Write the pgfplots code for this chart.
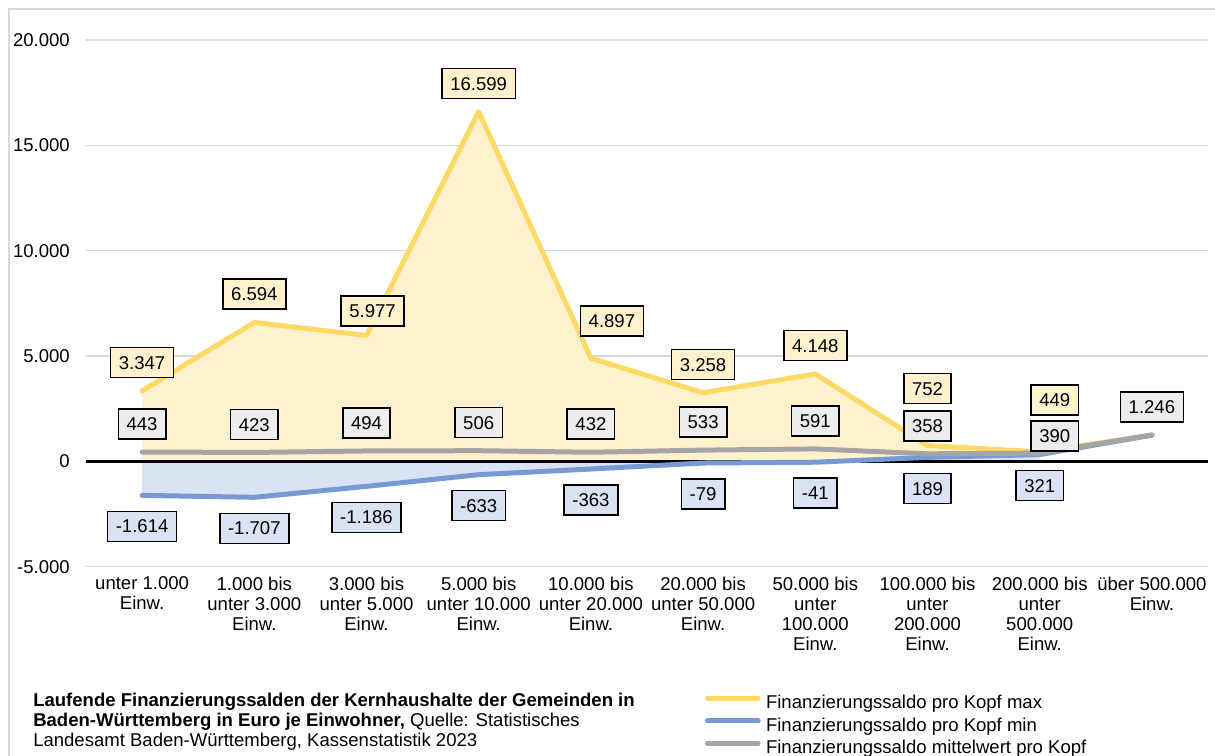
\documentclass[border=0pt]{standalone}
\usepackage{fontspec}
\setmainfont{Liberation Sans}
\usepackage{pgfplots}
\usepackage{pgfplotstable}
\pgfplotsset{compat=1.18}
\definecolor{maxline}{HTML}{FFD966}
\definecolor{maxfill}{HTML}{FFF2CC}
\definecolor{minline}{HTML}{779AD5}
\definecolor{minfill}{HTML}{DAE3F3}
\definecolor{meanline}{HTML}{A5A5A5}
\definecolor{meanfill}{HTML}{EDEDED}
\definecolor{gridc}{HTML}{D9D9D9}

\pgfplotstableread{
x max min mean
0 3347 -1614 443
1 6594 -1707 423
2 5977 -1186 494
3 16599 -633 506
4 4897 -363 432
5 3258 -79 533
6 4148 -41 591
7 752 189 358
8 449 321 390
9 1246 1246 1246
}\datatable

\tikzset{lbl/.style={draw=black, line width=1.2pt, minimum height=22.5pt,
  inner xsep=6.2pt, inner ysep=0pt, text height=9.95pt, text depth=0pt,
  font=\fontsize{13.9}{15.2}\selectfont, text=black}}
\pgfplotsset{lblplot/.style n args={3}{draw=none, forget plot, point meta=explicit symbolic,
  nodes near coords,
  every node near coord/.append style={lbl, fill=#1, anchor=center, xshift=#2*0.75pt, yshift=#3*0.75pt}}}

\begin{document}
\begin{tikzpicture}[font=\fontsize{13.9}{15.2}\selectfont]
\useasboundingbox (0pt,0pt) rectangle (911.25pt,567pt);
\draw[gridc, line width=1.1pt] (6.75pt,0pt) -- (6.75pt,560.25pt) -- (911.25pt,560.25pt);
\begin{axis}[
  at={(64.5pt,141.98pt)}, anchor=south west,
  scale only axis, width=841.5pt, height=395pt,
  xmin=-0.5, xmax=9.5, ymin=-5000, ymax=20000,
  axis line style={draw=none},
  clip=false,
  scaled y ticks=false,
  xtick={0,...,9},
  xticklabels={unter 1.000\\Einw., 1.000 bis\\unter 3.000\\Einw., 3.000 bis\\unter 5.000\\Einw., 5.000 bis\\unter 10.000\\Einw., 10.000 bis\\unter 20.000\\Einw., 20.000 bis\\unter 50.000\\Einw., 50.000 bis\\unter\\100.000\\Einw., 100.000 bis\\unter\\200.000\\Einw., 200.000 bis\\unter\\500.000\\Einw., über 500.000\\Einw.},
  ytick={-5000,0,5000,10000,15000,20000},
  yticklabels={-5.000,0,5.000,10.000,15.000,20.000},
  major tick length=0pt,
  ymajorgrids, grid style={gridc, line width=1pt},
  tick label style={font=\fontsize{13.9}{15.2}\selectfont},
  xticklabel style={align=center, anchor=north, inner sep=0pt, yshift=-7.3pt},
  yticklabel style={anchor=east, inner sep=0pt, xshift=-12pt},
  legend style={at={(axis description cs:0.5517,-0.238)}, anchor=north west,
    draw=none, fill=none, inner sep=0pt, outer sep=0pt, row sep=0pt,
    nodes={inner xsep=4pt, inner ysep=1.5pt, text height=10.9pt, text depth=3pt, anchor=west},
    /tikz/every even column/.append style={column sep=0pt}},
  legend cell align=left,
  legend image code/.code={\draw[#1, line cap=round] (0pt,3.8pt) -- (38pt,3.8pt);},
]
\addplot[fill=maxfill, draw=none, forget plot, skip coords between index={9}{10}]
  table[x=x, y=max] {\datatable} \closedcycle;
\addplot[fill=minfill, draw=none, forget plot, skip coords between index={9}{10}]
  table[x=x, y=min] {\datatable} \closedcycle;
\draw[black, line width=2pt] (axis cs:-0.5,0) -- (axis cs:9.5,0);
\addplot[maxline, line width=3.75pt, line cap=round, line join=round]
  table[x=x, y=max] {\datatable};
\addplot[minline, line width=3.75pt, line cap=round, line join=round]
  table[x=x, y=min] {\datatable};
\addplot[meanline, line width=3.75pt, line cap=round, line join=round]
  table[x=x, y=mean] {\datatable};
\legend{Finanzierungssaldo pro Kopf max, Finanzierungssaldo pro Kopf min, Finanzierungssaldo mittelwert pro Kopf}
% labels max
\addplot[lblplot={maxfill}{0}{28.3}] coordinates {(0,3347) [3.347] (1,6594) [6.594] (3,16599) [16.599] (5,3258) [3.258] (6,4148) [4.148]};
\addplot[lblplot={maxfill}{6}{24.5}] coordinates {(2,5977) [5.977]};
\addplot[lblplot={maxfill}{21}{37}] coordinates {(4,4897) [4.897]};
\addplot[lblplot={maxfill}{0}{57}] coordinates {(7,752) [752]};
\addplot[lblplot={maxfill}{15}{52}] coordinates {(8,449) [449]};
% labels min
\addplot[lblplot={minfill}{0}{-31}] coordinates {(0,-1614) [-1.614] (1,-1707) [-1.707] (2,-1186) [-1.186] (3,-633) [-633] (4,-363) [-363] (5,-79) [-79] (6,-41) [-41] (7,189) [189] (8,321) [321]};
% labels mean
\addplot[lblplot={meanfill}{0}{28}] coordinates {(0,443) [443] (1,423) [423] (2,494) [494] (3,506) [506] (4,432) [432] (5,533) [533] (6,591) [591] (7,358) [358] (9,1246) [1.246]};
\addplot[lblplot={meanfill}{15}{17}] coordinates {(8,390) [390]};
\end{axis}
\node[anchor=north west, inner sep=0pt, align=left, font=\fontsize{13.9}{14.8}\selectfont]
  at (24.75pt,47.25pt)
  {\textbf{Laufende Finanzierungssalden der Kernhaushalte der Gemeinden in}\\
   \textbf{Baden-Württemberg in Euro je Einwohner,} Quelle: Statistisches\\
   Landesamt Baden-Württemberg, Kassenstatistik 2023};
\end{tikzpicture}
\end{document}
